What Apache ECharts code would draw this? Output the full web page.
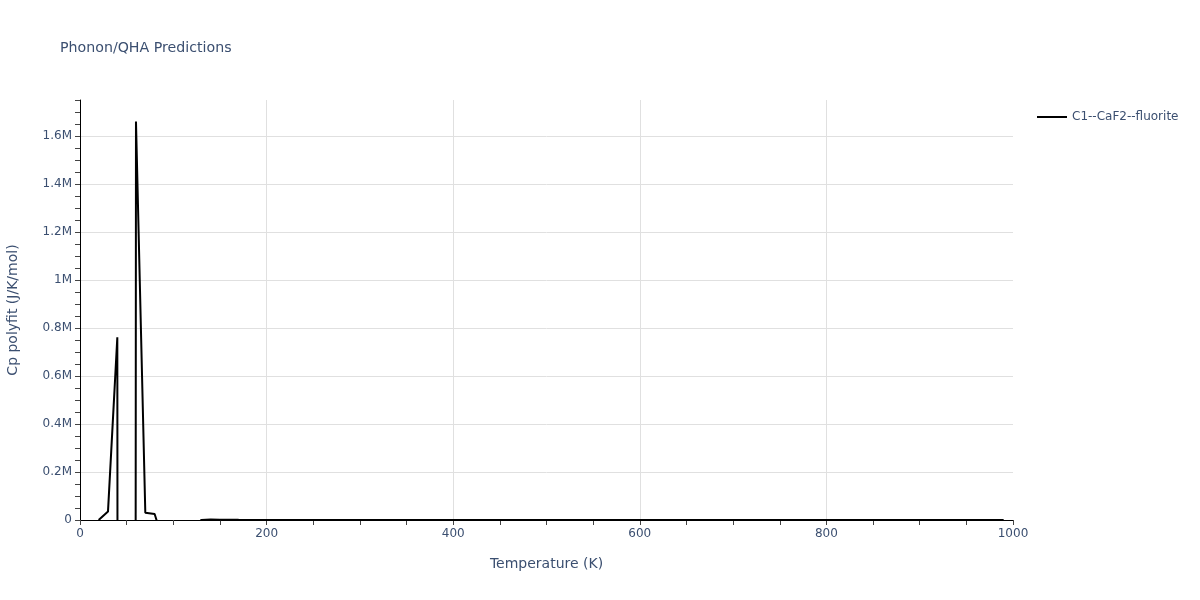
<!DOCTYPE html>
<html>
<head>
<meta charset="utf-8">
<script src="https://cdn.jsdelivr.net/npm/echarts@6/dist/echarts.min.js"></script>
<style>html,body{margin:0;padding:0;background:#fff}#c{width:1200px;height:600px}</style>
</head>
<body>
<div id="c"></div>
<script>
const seriesName = 'C1--CaF2--fluorite';
const temperatures = [20,30,40,50,60,70,80,90,100,110,120,130,140,150,160,170,180,190,200,210,220,230,240,250,260,270,280,290,300,310,320,330,340,350,360,370,380,390,400,410,420,430,440,450,460,470,480,490,500,510,520,530,540,550,560,570,580,590,600,610,620,630,640,650,660,670,680,690,700,710,720,730,740,750,760,770,780,790,800,810,820,830,840,850,860,870,880,890,900,910,920,930,940,950,960,970,980,990];
const cpValues = [0,35000,761000,-50000000,1660000,30000,25000,-100000,-400000,-300000,-60000,500,2000,1500,900,600,420,300,220,170,140,120,110,100,95,92,90,88,86,85,84,83,82,81,81,80,80,79,79,78,78,78,77,77,77,76,76,76,76,75,75,75,75,75,74,74,74,74,74,74,73,73,73,73,73,73,73,72,72,72,72,72,72,72,72,71,71,71,71,71,71,71,71,71,70,70,70,70,70,70,70,70,70,70,70,69,69,69];
const xTicks = {min: 0, max: 1000, interval: 200};
const yTicks = {min: 0, max: 1750000, interval: 200000};

const chart = echarts.init(document.getElementById('c'));
const txt = '#3b4f70';
const ff = 'DejaVu Sans, Verdana, sans-serif';
chart.setOption({
  animation: false,
  title: {text: 'Phonon/QHA Predictions', left: 55, top: 36, textStyle: {fontFamily: ff, fontSize: 14.2, fontWeight: 'normal', color: txt}},
  legend: {left: 1032, top: 106, itemWidth: 30, itemHeight: 2, itemGap: 5,
    textStyle: {fontFamily: ff, fontSize: 12, color: txt},
    data: [{name: seriesName, icon: 'path://M0,0 L30,0 L30,2 L0,2 Z'}]},
  grid: {left: 80, right: 187, top: 100, bottom: 80, containLabel: false, outerBoundsMode: 'none'},
  xAxis: {
    type: 'value', min: xTicks.min, max: xTicks.max, interval: xTicks.interval,
    name: 'Temperature (K)', nameLocation: 'middle', nameGap: 37,
    nameTextStyle: {fontFamily: ff, fontSize: 14, color: txt},
    axisLine: {show: true, onZero: false, lineStyle: {color: '#000', width: 1}},
    axisTick: {show: true, length: 5, lineStyle: {color: '#444'}},
    minorTick: {show: true, splitNumber: 4, length: 5, lineStyle: {color: '#444'}},
    axisLabel: {fontFamily: ff, fontSize: 12, color: txt, margin: 8, formatter: v => String(v)},
    splitLine: {show: true, showMinLine: false, showMaxLine: false, lineStyle: {color: '#e0e0e0', width: 1}},
    minorSplitLine: {show: false}
  },
  yAxis: {
    type: 'value', min: yTicks.min, max: yTicks.max, interval: yTicks.interval,
    name: 'Cp polyfit (J/K/mol)', nameLocation: 'middle', nameGap: 60, nameRotate: 90,
    nameTextStyle: {fontFamily: ff, fontSize: 14, color: txt},
    axisLine: {show: true, onZero: false, lineStyle: {color: '#000', width: 1}},
    axisTick: {show: true, length: 5, lineStyle: {color: '#444'}},
    minorTick: {show: true, splitNumber: 4, length: 5, lineStyle: {color: '#444'}},
    axisLabel: {fontFamily: ff, fontSize: 12, color: txt, margin: 8, showMaxLabel: false,
      formatter: v => v === 0 ? '0' : (Math.round(v / 1e5) / 10) + 'M'},
    splitLine: {show: true, showMinLine: false, showMaxLine: false, lineStyle: {color: '#e0e0e0', width: 1}},
    minorSplitLine: {show: false}
  },
  series: [{
    name: seriesName, type: 'line', clip: true, showSymbol: false, symbol: 'none',
    lineStyle: {color: '#000', width: 2}, itemStyle: {color: '#000'},
    data: temperatures.map((t, i) => [t, cpValues[i]])
  }]
});
</script>
</body>
</html>
